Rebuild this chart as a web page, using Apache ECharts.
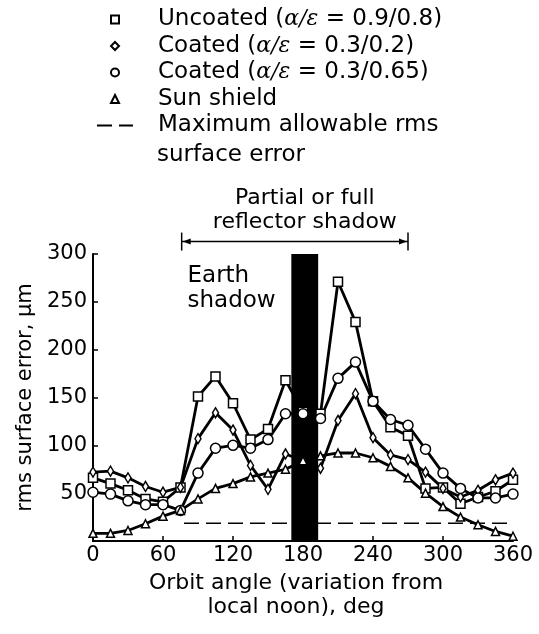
<!DOCTYPE html>
<html>
<head>
<meta charset="utf-8">
<script src="https://cdn.jsdelivr.net/npm/echarts@6/dist/echarts.min.js"></script>
<style>
  html, body { margin: 0; padding: 0; background: #fff; }
  #chart { width: 539px; height: 634px; }
</style>
</head>
<body>
<div id="chart"></div>
<script>
// orbit angle, deg
const angles = [0, 15, 30, 45, 60, 75, 90, 105, 120, 135, 150, 165, 180,
  195, 210, 225, 240, 255, 270, 285, 300, 315, 330, 345, 360]

// rms surface error, µm
const uncoated = [66, 60, 53, 44, 41, 56, 151, 172, 144, 106, 117, 168, 135,
  133, 271, 229, 146, 119, 110, 55, 56, 39, 46, 52, 64]
const coated02 = [72, 73, 66, 57, 51, 56, 107, 134, 116, 79, 54, 91, 84,
  76, 126, 154, 108, 90, 85, 72, 55, 46, 53, 64, 71]
const coated065 = [51, 49, 42, 38, 38, 32, 71, 97, 100, 97, 106, 133, 133,
  128, 170, 187, 146, 127, 121, 96, 71, 55, 45, 45, 49]
const sunShield = [8, 8, 11, 18, 26, 32, 44, 55, 60, 67, 71, 75, 84,
  89, 92, 92, 87, 78, 66, 50, 36, 25, 17, 10, 5]

const limitAngles = [78, 358]
const limitValue = 18.5
const earthShadow = [170, 193]
const reflectorShadow = [76, 270]

const seriesNames = [
  'Uncoated (α/ε = 0.9/0.8)',
  'Coated (α/ε = 0.3/0.2)',
  'Coated (α/ε = 0.3/0.65)',
  'Sun shield',
  'Maximum allowable rms'
]

const FONT = 'DejaVu Sans'
const pair = (ys) => angles.map((a, i) => [a, ys[i]])

const chart = echarts.init(document.getElementById('chart'))

const markerSeries = (name, values, symbol, size) => ({
  name,
  type: 'line',
  z: 3,
  data: pair(values),
  symbol,
  symbolSize: size,
  showAllSymbol: true,
  lineStyle: { color: '#000', width: 2.8 },
  itemStyle: { color: '#fff', borderColor: '#000', borderWidth: 1.5 }
})

chart.setOption({
  animation: false,
  backgroundColor: '#fff',
  textStyle: { fontFamily: FONT, color: '#000' },
  grid: { left: 93, right: 26, top: 254, bottom: 93 },
  legend: {
    orient: 'vertical',
    left: 96,
    top: 8,
    padding: 0,
    itemWidth: 36,
    itemHeight: 10,
    itemGap: 3.5,
    selectedMode: false,
    data: seriesNames.map((n, i) => i < 4
      ? { name: n, lineStyle: { opacity: 0 } }
      : { name: n, itemStyle: { opacity: 0 } }),
    formatter: (name) => '{t|' + name.replace('α/ε', '}{g|α/ε}{t|') + '}',
    textStyle: {
      padding: [0, 0, 0, 20],
      rich: {
        t: { fontFamily: FONT, fontSize: 23, lineHeight: 26, color: '#000' },
        g: { fontFamily: 'DejaVu Serif', fontStyle: 'italic', fontSize: 22, lineHeight: 26, color: '#000' }
      }
    }
  },
  xAxis: {
    type: 'value',
    min: 0,
    max: 360,
    interval: 60,
    name: 'Orbit angle (variation from\nlocal noon), deg',
    nameLocation: 'middle',
    nameGap: 30,
    nameTextStyle: { fontFamily: FONT, fontSize: 22, lineHeight: 24, color: '#000', padding: [0, 14, 0, 0] },
    axisLine: { lineStyle: { color: '#000', width: 2 } },
    axisTick: { inside: true, length: 5, lineStyle: { color: '#000', width: 1.5 } },
    axisLabel: { fontFamily: FONT, fontSize: 21, color: '#000', margin: 4 },
    splitLine: { show: false }
  },
  yAxis: {
    type: 'value',
    min: 0,
    max: 300,
    interval: 50,
    name: 'rms surface error, µm',
    nameLocation: 'middle',
    nameGap: 56,
    nameTextStyle: { fontFamily: FONT, fontSize: 21, color: '#000' },
    axisLine: { show: true, lineStyle: { color: '#000', width: 2 } },
    axisTick: { show: true, inside: true, length: 5, lineStyle: { color: '#000', width: 1.5 } },
    axisLabel: {
      fontFamily: FONT, fontSize: 21, color: '#000', margin: 6,
      formatter: (v) => (v === 0 ? '' : v)
    },
    splitLine: { show: false }
  },
  series: [
    {
      name: 'earth shadow',
      type: 'line',
      z: 1,
      data: [],
      markArea: {
        silent: true,
        itemStyle: { color: '#000' },
        data: [[{ xAxis: earthShadow[0], yAxis: 0 }, { xAxis: earthShadow[1], yAxis: 300 }]]
      }
    },
    markerSeries(seriesNames[0], uncoated, 'rect', 9),
    markerSeries(seriesNames[1], coated02, 'diamond', [6, 10]),
    markerSeries(seriesNames[2], coated065, 'circle', 10),
    markerSeries(seriesNames[3], sunShield, 'triangle', 8),
    {
      name: seriesNames[4],
      type: 'line',
      z: 2,
      symbol: 'none',
      data: limitAngles.map((a) => [a, limitValue]),
      lineStyle: { color: '#000', width: 1.5, type: [15, 7] }
    }
  ]
})

// annotations placed from data coordinates
const toPx = (x, y) => chart.convertToPixel({ gridIndex: 0 }, [x, y])
const [xl, ya] = toPx(reflectorShadow[0], 313)
const [xr] = toPx(reflectorShadow[1], 313)
const [xe, ye] = toPx(81, 290)

chart.setOption({
  graphic: [
    // second line of the last legend entry
    {
      type: 'text', x: 157, y: 155,
      style: { text: 'surface error', fontFamily: FONT, fontSize: 23, fill: '#000', align: 'left', verticalAlign: 'middle' }
    },
    { type: 'line', shape: { x1: xl, y1: ya, x2: xr, y2: ya }, style: { stroke: '#000', lineWidth: 1.5 } },
    { type: 'line', shape: { x1: xl, y1: ya - 9, x2: xl, y2: ya + 9 }, style: { stroke: '#000', lineWidth: 1.5 } },
    { type: 'line', shape: { x1: xr, y1: ya - 9, x2: xr, y2: ya + 9 }, style: { stroke: '#000', lineWidth: 1.5 } },
    { type: 'polygon', shape: { points: [[xl + 1, ya], [xl + 9, ya - 3], [xl + 9, ya + 3]] }, style: { fill: '#000' } },
    { type: 'polygon', shape: { points: [[xr - 1, ya], [xr - 9, ya - 3], [xr - 9, ya + 3]] }, style: { fill: '#000' } },
    {
      type: 'text', x: (xl + xr) / 2 + 10, y: ya - 7,
      style: {
        text: 'Partial or full\nreflector shadow', fontFamily: FONT, fontSize: 22, lineHeight: 24,
        fill: '#000', align: 'center', verticalAlign: 'bottom'
      }
    },
    {
      type: 'text', x: xe, y: ye,
      style: {
        text: 'Earth\nshadow', fontFamily: FONT, fontSize: 23, lineHeight: 25,
        fill: '#000', align: 'left', verticalAlign: 'top'
      }
    }
  ]
})
</script>
</body>
</html>
